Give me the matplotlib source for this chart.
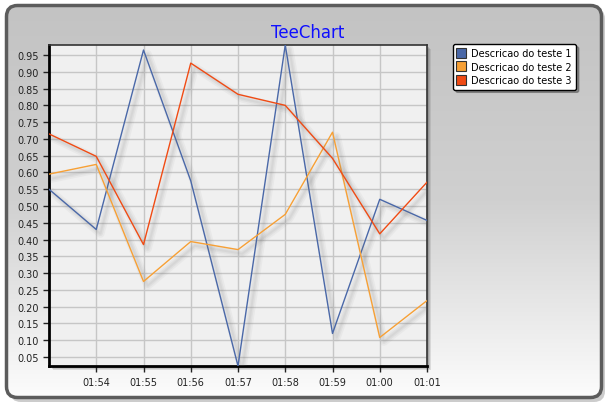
import numpy as np
import matplotlib
matplotlib.use("Agg")
import matplotlib.pyplot as plt
import matplotlib.patheffects as pe
from matplotlib.patches import FancyBboxPatch, Rectangle
from matplotlib.lines import Line2D

# dados
minutos = ["01:53", "01:54", "01:55", "01:56", "01:57", "01:58", "01:59", "01:00", "01:01"]
teste1 = [0.55, 0.43, 0.965, 0.575, 0.023, 0.98, 0.12, 0.52, 0.457]
teste2 = [0.595, 0.624, 0.275, 0.394, 0.37, 0.475, 0.72, 0.108, 0.218]
teste3 = [0.715, 0.648, 0.385, 0.926, 0.833, 0.80, 0.642, 0.417, 0.571]
nomes = ["Descricao do teste 1", "Descricao do teste 2", "Descricao do teste 3"]
cores = ["#4a68a8", "#f7a035", "#f04b14"]
yticks = np.round(np.arange(0.05, 0.951, 0.05), 2)

W, H = 609, 406
fig = plt.figure(figsize=(W / 100, H / 100), dpi=100)
fig.patch.set_facecolor("white")

# painel de fundo com gradiente e cantos arredondados (coordenadas em pixels)
bg = fig.add_axes([0, 0, 1, 1])
bg.set_xlim(0, W)
bg.set_ylim(H, 0)
bg.axis("off")
sombra = FancyBboxPatch((10, 9), 595, 394, boxstyle="round,pad=0,rounding_size=11",
                        facecolor="#9a9a9a", edgecolor="none", alpha=0.5)
bg.add_patch(sombra)
painel = FancyBboxPatch((6.5, 6.5), 595, 392, boxstyle="round,pad=0,rounding_size=11",
                        facecolor="none", edgecolor="#5c5c5c", linewidth=2.5, zorder=3)
grad = np.linspace(0, 1, 256).reshape(-1, 1)
img = bg.imshow(grad, cmap=matplotlib.colors.LinearSegmentedColormap.from_list(
    "g", ["#c3c3c3", "#d0d0d0", "#fcfcfc"]), extent=(6.5, 601.5, 398.5, 6.5),
    aspect="auto", zorder=2)
bg.add_patch(painel)
img.set_clip_path(painel)

# sombra da area do grafico (suave)
for d, a in [(4, 0.18), (3, 0.22), (2, 0.3)]:
    bg.add_patch(Rectangle((49 + d, 46 + d), 378, 321, facecolor="#6a6a6a",
                           edgecolor="none", alpha=a, zorder=4))

fig.text(0.505, 1 - 33 / H, "TeeChart", color="#1010ff", fontsize=12,
         ha="center", va="center")

ax = fig.add_axes([49 / W, (H - 367) / H, 378 / W, 321 / H])
ax.set_facecolor("#f0f0f0")
x = np.arange(len(minutos))
sombra_linha = [pe.SimpleLineShadow(offset=(3, -3), shadow_color="#777777", alpha=0.06, linewidth=6),
                pe.SimpleLineShadow(offset=(3, -3), shadow_color="#777777", alpha=0.08, linewidth=3.5),
                pe.SimpleLineShadow(offset=(3, -3), shadow_color="#777777", alpha=0.08, linewidth=1.5),
                pe.Normal()]
for serie, cor, nome in zip([teste1, teste2, teste3], cores, nomes):
    ax.plot(x, serie, color=cor, linewidth=1.0, label=nome, path_effects=sombra_linha,
            zorder=3)

ax.set_xlim(0, len(minutos) - 1)
ax.set_ylim(min(teste1 + teste2 + teste3), max(teste1 + teste2 + teste3))
ax.set_xticks(x[1:])
ax.set_xticklabels(minutos[1:])
ax.set_yticks(yticks)
ax.set_yticklabels([f"{v:.2f}" for v in yticks])
ax.grid(True, color="#c6c6c6", linewidth=1.0, zorder=1)
ax.set_axisbelow(True)
ax.tick_params(axis="both", labelsize=7, colors="#222222", length=4, width=1)
ax.tick_params(axis="x", pad=4)
for lado in ["left", "bottom"]:
    ax.spines[lado].set_linewidth(2)
    ax.spines[lado].set_color("black")
for lado in ["top", "right"]:
    ax.spines[lado].set_linewidth(1.2)
    ax.spines[lado].set_color("#333333")

handles = [Line2D([], [], linestyle="none", marker="s", markersize=7,
                  markerfacecolor=c, markeredgecolor="#333333", markeredgewidth=0.8)
           for c in cores]
leg = fig.legend(handles, nomes, loc="upper left", bbox_to_anchor=(453 / W, 1 - 45 / H),
                 fontsize=7, frameon=True, fancybox=True, shadow=True,
                 handlelength=0.8, handletextpad=0.6, labelspacing=0.35,
                 borderpad=0.45, borderaxespad=0)
leg.get_frame().set_edgecolor("black")
leg.get_frame().set_linewidth(1.0)

fig.savefig("out.png", dpi=100)
